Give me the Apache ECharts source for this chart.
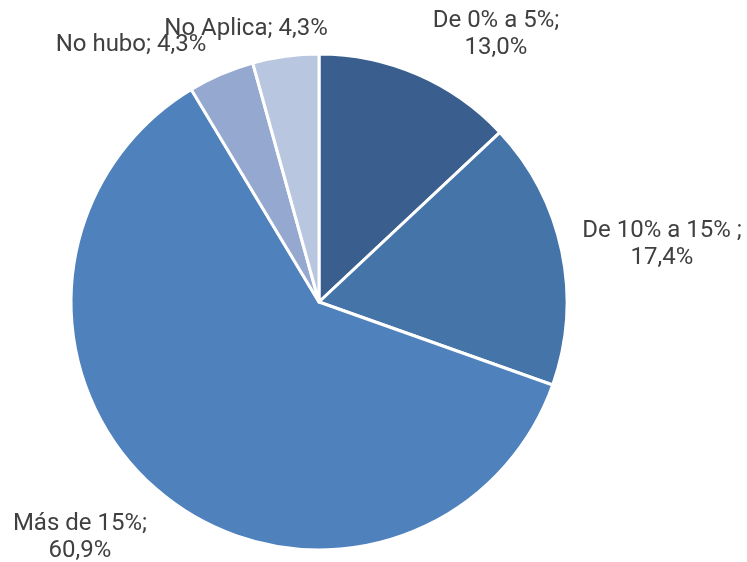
<!DOCTYPE html>
<html>
<head>
<meta charset="utf-8">
<script src="https://cdn.jsdelivr.net/npm/echarts@6/dist/echarts.min.js"></script>
<style>html,body{margin:0;padding:0;background:#fff}#c{width:747px;height:562px}</style>
</head>
<body>
<div id="c"></div>
<script>
var categories = ['De 0% a 5%', 'De 10% a 15% ', 'Más de 15%', 'No hubo', 'No Aplica'];
var values = [13.0, 17.4, 60.9, 4.3, 4.3];
var colors = ['#3a5f8e', '#4574a9', '#4f81bd', '#95a9d0', '#b9c6e0'];
var labelPos = [[496, 34, true], [662, 244, true], [80, 537, true], [131, 45, false], [246, 29, false]];

var chart = echarts.init(document.getElementById('c'), null, {renderer: 'canvas'});
var data = categories.map(function (c, i) {
  return {name: c, value: values[i], itemStyle: {color: colors[i]}};
});
chart.setOption({
  animation: false,
  series: [{
    type: 'pie',
    center: [319, 302],
    radius: [0, 248],
    startAngle: 90,
    clockwise: true,
    data: data,
    itemStyle: {borderColor: '#ffffff', borderWidth: 3},
    label: {
      show: true,
      position: 'outside',
      color: '#404040',
      fontFamily: 'Roboto',
      fontSize: 24,
      lineHeight: 27,
      align: 'center',
      overflow: 'none',
      formatter: function (p) {
        var v = values[p.dataIndex].toFixed(1).replace('.', ',') + '%';
        return labelPos[p.dataIndex][2] ? p.name + ';\n' + v : p.name + '; ' + v;
      }
    },
    labelLine: {show: false},
    labelLayout: function (p) {
      var lp = labelPos[p.dataIndex];
      return {x: lp[0], y: lp[1], align: 'center', verticalAlign: 'middle', hideOverlap: false};
    }
  }]
});
</script>
</body>
</html>
